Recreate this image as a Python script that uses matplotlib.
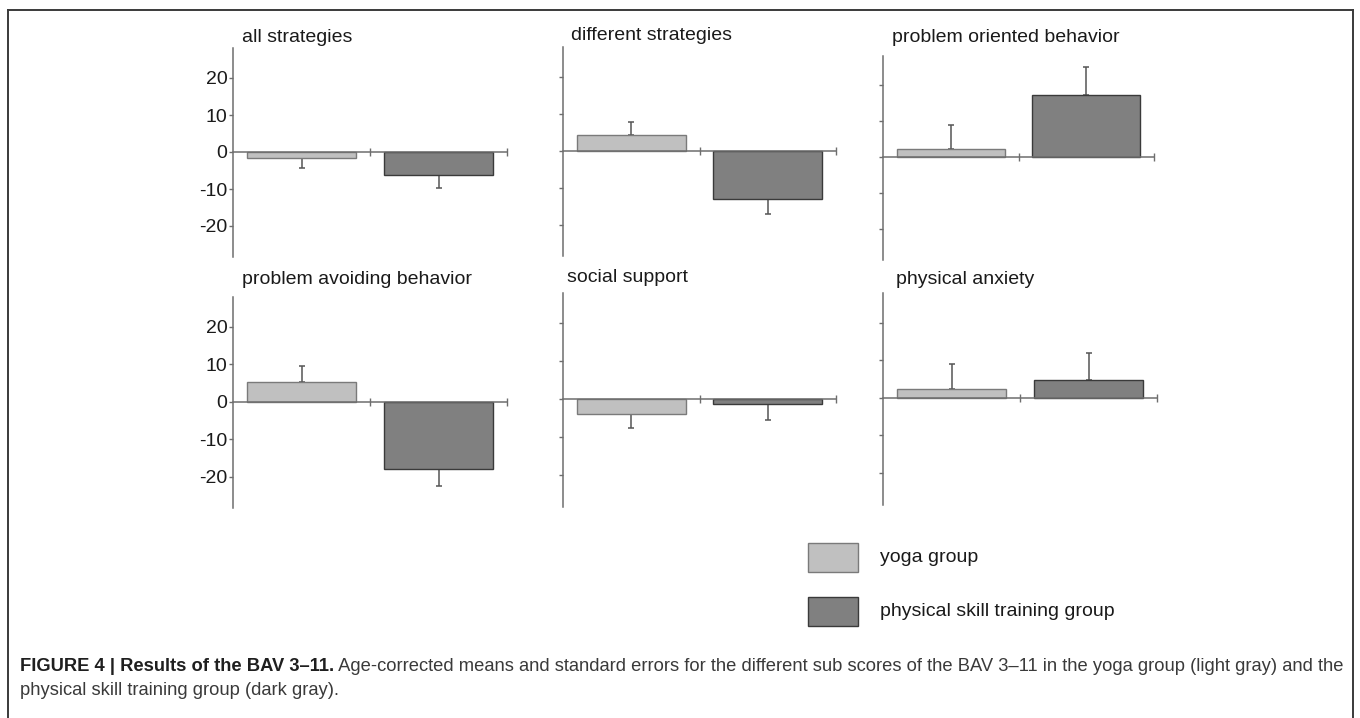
import matplotlib
matplotlib.use("Agg")
import matplotlib.pyplot as plt
from matplotlib.lines import Line2D
from matplotlib.patches import Rectangle

plt.rcParams['font.family'] = ['Liberation Sans', 'DejaVu Sans']

W, H = 1360, 718

# ---- data ----
panel_titles = ["all strategies", "different strategies", "problem oriented behavior",
                "problem avoiding behavior", "social support", "physical anxiety"]
groups = ["yoga group", "physical skill training group"]
yoga_means = [-1.5, 4.3, 2.4, 5.4, -3.9, 2.4]
yoga_se = [2.9, 3.6, 6.6, 4.2, 3.7, 6.5]
skill_means = [-6.3, -13.0, 17.3, -18.0, -1.4, 4.6]
skill_se = [3.5, 4.1, 7.9, 4.5, 4.2, 7.4]
yticks = [-20, -10, 0, 10, 20]
ytick_labels = ["-20", "-10", "0", "10", "20"]

light = "#c0c0c0"
light_edge = "#7a7a7a"
dark = "#808080"
dark_edge = "#3a3a3a"
axis_col = "#6e6e6e"
text_col = "#1a1a1a"

# pixel layout of each panel: left, right, zero-line y, px per unit
layout = [
    (233, 507, 152.0, 3.70),
    (563, 836, 151.0, 3.70),
    (883, 1154, 157.3, 3.60),
    (233, 507, 401.7, 3.74),
    (563, 836, 399.0, 3.79),
    (883, 1157, 397.7, 3.75),
]
title_pos = [(242, 38), (571, 35), (892, 38), (242, 280), (567, 278), (896, 279)]
YTOP, YBOT = 28.0, -28.5

fig = plt.figure(figsize=(W / 100, H / 100), dpi=100)
fig.patch.set_facecolor("white")

for i in range(6):
    left, right, zero, s = layout[i]
    top_px = zero - YTOP * s
    bot_px = zero - YBOT * s
    ax = fig.add_axes([left / W, 1 - bot_px / H, (right - left) / W, (bot_px - top_px) / H])
    ax.set_xlim(0, 2)
    ax.set_ylim(YBOT, YTOP)
    ax.patch.set_alpha(0)
    for sp in ["top", "right"]:
        ax.spines[sp].set_visible(False)
    ax.spines["left"].set_color(axis_col)
    ax.spines["left"].set_linewidth(1.1)
    ax.spines["bottom"].set_position(("data", 0))
    ax.spines["bottom"].set_color(axis_col)
    ax.spines["bottom"].set_linewidth(1.1)
    ax.set_xticks([1, 2])
    ax.set_xticklabels([])
    ax.tick_params(axis="x", direction="inout", length=6, width=1, color=axis_col)
    ax.set_yticks(yticks)
    if i % 3 == 0:
        ax.set_yticklabels(ytick_labels)
    else:
        ax.set_yticklabels([])
    ax.tick_params(axis="y", direction="out", length=3, width=1, color=axis_col,
                   labelsize=14, labelcolor=text_col, pad=1)

    vals = [yoga_means[i], skill_means[i]]
    ses = [yoga_se[i], skill_se[i]]
    xs = [0.5, 1.5]
    for x, v, e in zip(xs, vals, ses):
        yerr = [[0], [e]] if v >= 0 else [[e], [0]]
        ax.errorbar([x], [v], yerr=yerr, fmt="none", ecolor="#555555",
                    elinewidth=1.1, capsize=2, capthick=1.1, zorder=1)
    ax.bar(xs, vals, width=0.8, color=[light, dark], edgecolor=[light_edge, dark_edge],
           linewidth=1.0, zorder=2)

    tx, ty = title_pos[i]
    fig.text(tx / W, 1 - ty / H, panel_titles[i], fontsize=14, color=text_col,
             ha="left", va="center")

# ---- legend ----
leg_items = [(light, light_edge, 543, groups[0]), (dark, dark_edge, 597, groups[1])]
for fc, ec, y0, lab in leg_items:
    fig.patches.append(Rectangle((808 / W, 1 - (y0 + 29) / H), 50 / W, 29 / H,
                                 transform=fig.transFigure, facecolor=fc,
                                 edgecolor=ec, linewidth=1.0))
    fig.text(880 / W, 1 - (y0 + 14) / H, lab, fontsize=14, color=text_col,
             ha="left", va="center")

# ---- outer frame ----
frame_col = "#3a3a3a"
fig.lines.append(Line2D([7.5 / W, 7.5 / W], [1 - 9.5 / H, 0], transform=fig.transFigure,
                        color=frame_col, linewidth=1.4))
fig.lines.append(Line2D([1353 / W, 1353 / W], [1 - 9.5 / H, 0], transform=fig.transFigure,
                        color=frame_col, linewidth=1.4))
fig.lines.append(Line2D([7.5 / W, 1353 / W], [1 - 9.5 / H, 1 - 9.5 / H],
                        transform=fig.transFigure, color=frame_col, linewidth=1.4))

# ---- caption ----
bold_part = "FIGURE 4 | Results of the BAV 3\u201311."
rest1 = (" Age-corrected means and standard errors for the different sub scores of the "
         "BAV 3\u201311 in the yoga group (light gray) and the")
line2 = "physical skill training group (dark gray)."

renderer = fig.canvas.get_renderer()
fs = 12.0
cap_x0 = 20
target_right = 1343
for _ in range(3):
    t1 = fig.text(0, 0, bold_part, fontsize=fs, fontweight="bold")
    t2 = fig.text(0, 0, rest1, fontsize=fs)
    w = t1.get_window_extent(renderer).width + t2.get_window_extent(renderer).width
    t1.remove(); t2.remove()
    fs = fs * (target_right - cap_x0) / w

tb = fig.text(cap_x0 / W, 1 - 671 / H, bold_part, fontsize=fs, fontweight="bold",
              color="#1f1f1f", ha="left", va="baseline")
bw = tb.get_window_extent(renderer).width
fig.text((cap_x0 + bw) / W, 1 - 671 / H, rest1, fontsize=fs, color="#3a3a3a",
         ha="left", va="baseline")
fig.text(cap_x0 / W, 1 - 695 / H, line2, fontsize=fs, color="#3a3a3a",
         ha="left", va="baseline")

fig.savefig("out.png", dpi=100, facecolor="white")
